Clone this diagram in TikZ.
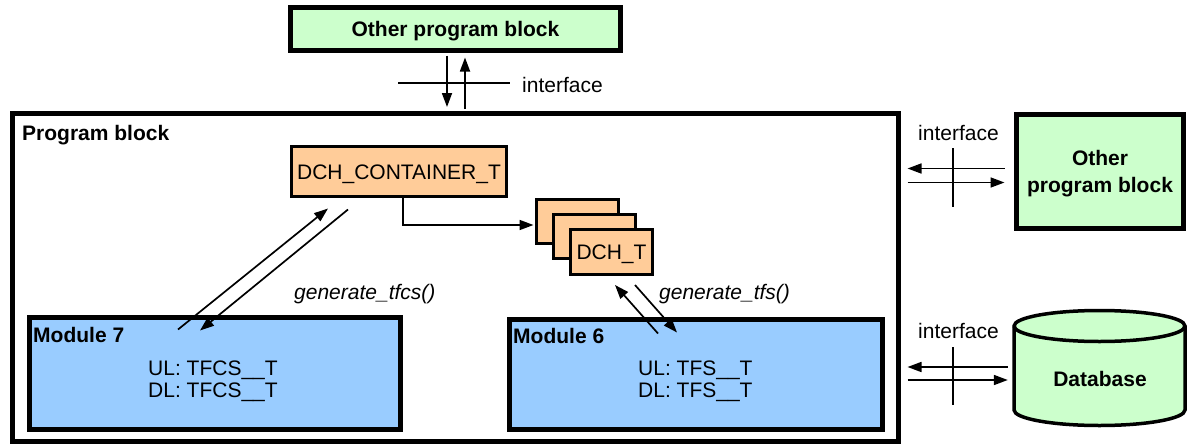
\documentclass[tikz,border=0pt]{standalone}
\usepackage{fontspec}
\setmainfont{Liberation Sans}
\usetikzlibrary{arrows.meta}
\definecolor{blockgreen}{HTML}{CCFFCC}
\definecolor{typeorange}{HTML}{FFCC99}
\definecolor{moduleblue}{HTML}{99CCFF}
\begin{document}
\begin{tikzpicture}[x=1pt,y=-1pt,
  every node/.style={font=\fontsize{21}{25.2}\selectfont, inner sep=0pt},
  capcenter/.style={text height=15pt, text depth=0pt},
  blockbox/.style={draw, line width=5pt, fill=blockgreen},
  typebox/.style={draw, line width=3pt, fill=typeorange},
  modbox/.style={draw, line width=5pt, fill=moduleblue},
  arr/.style={line width=1.7pt, -{Triangle[length=14pt,width=10pt]}},
  ifline/.style={line width=1.6pt},
  tag/.style={anchor=base west}
]
\useasboundingbox (0,0) rectangle (1193,447);
\fill[white] (0,0) rectangle (1193,447);

% outer program block
\node[draw, line width=5pt, minimum width=886pt, minimum height=328pt] (prog) at (455.5,277) {};
\node[tag] (progtitle) at (22,140) {\bfseries Program block};

% neighbouring program blocks
\node[blockbox, capcenter, minimum width=330pt, minimum height=43pt] (top) at (455.5,29) {\bfseries Other program block};
\node[blockbox, minimum width=167pt, minimum height=114pt] (ob2) at (1099.5,171.5) {};
\node[anchor=base] (ob2a) at (1100,165) {\bfseries Other};
\node[anchor=base] (ob2b) at (1100,192) {\bfseries program block};

% database cylinder
\path[fill=blockgreen, draw, line width=3.5pt]
  (1014,326) -- (1014,410)
  arc[start angle=180, end angle=360, x radius=85.5pt, y radius=15.5pt]
  -- (1185,326)
  arc[start angle=0, end angle=180, x radius=85.5pt, y radius=15.5pt] -- cycle;
\draw[line width=3.5pt] (1014,326)
  arc[start angle=180, end angle=360, x radius=85.5pt, y radius=15.5pt];
\node[capcenter, minimum width=172pt] (db) at (1100,379) {\bfseries Database};

% container types
\node[typebox, capcenter, minimum width=215pt, minimum height=50pt] (cont) at (399,171.5) {DCH\_CONTAINER\_T};
\node[typebox, minimum width=82pt, minimum height=44pt] (dch1) at (577.5,221.5) {};
\node[typebox, minimum width=82pt, minimum height=44pt] (dch2) at (594.5,236.5) {};
\node[typebox, capcenter, minimum width=82pt, minimum height=45pt] (dch3) at (611.5,252) {DCH\_T};
\draw[arr, shorten >=1.5pt] ([xshift=4pt]cont.south) |- ([yshift=-3.5pt]dch1.west);

% modules
\node[modbox, minimum width=371pt, minimum height=112pt] (mod7) at (215,373.5) {};
\node[tag] (mod7t) at (33,342) {\bfseries Module 7};
\node[tag] (mod7ul) at (148,375) {UL: TFCS\_\_T};
\node[tag] (mod7dl) at (148,397) {DL: TFCS\_\_T};

\node[modbox, minimum width=373pt, minimum height=110pt] (mod6) at (696,374.5) {};
\node[tag] (mod6t) at (513,343) {\bfseries Module 6};
\node[tag] (mod6ul) at (638,375) {UL: TFS\_\_T};
\node[tag] (mod6dl) at (638,397) {DL: TFS\_\_T};

% generate calls
\draw[arr] ([shift={(-37,14.5)}]mod7.north) -- ([shift={(-71,10.5)}]cont.south);
\draw[arr] ([shift={(-51,11.5)}]cont.south) -- ([shift={(-15,15.5)}]mod7.north);
\node[tag] (gtfcs) at (294,299) {\itshape generate\_tfcs()};

\draw[arr] ([shift={(-38,16.5)}]mod6.north) -- ([shift={(3.5,9)}]dch3.south);
\draw[arr] ([shift={(23.5,9)}]dch3.south) -- ([shift={(-19,15.5)}]mod6.north);
\node[tag] (gtfs) at (659,299) {\itshape generate\_tfs()};

% interface to the upper block
\draw[arr, shorten <=2.5pt, shorten >=3.5pt] ([xshift=-8.5pt]top.south) -- ([xshift=-8.5pt]prog.north);
\draw[arr, shorten <=1.5pt, shorten >=4.5pt] ([xshift=9.5pt]prog.north) -- ([xshift=9.5pt]top.south);
\draw[ifline] (398,83) -- (510,83);
\node[tag] (if1) at (522,92) {interface};

% interface to the right block
\draw[arr, shorten <=9pt, shorten >=6.5pt] ([yshift=3pt]ob2.west) -- ([yshift=3pt]ob2.west -| prog.east);
\draw[arr, shorten <=6.5pt, shorten >=9pt] ([yshift=-11pt]ob2.west -| prog.east) -- ([yshift=-11pt]ob2.west);
\draw[ifline] (953,148) -- (953,207);
\node[tag] (if2) at (918,140) {interface};

% interface to the database
\draw[arr, shorten <=6pt, shorten >=6.5pt] ([yshift=12pt]db.west) -- ([yshift=12pt]db.west -| prog.east);
\draw[arr, shorten <=6.5pt, shorten >=6pt] ([yshift=-1pt]db.west -| prog.east) -- ([yshift=-1pt]db.west);
\draw[ifline] (953,347) -- (953,405);
\node[tag] (if3) at (918,338) {interface};
\end{tikzpicture}
\end{document}
